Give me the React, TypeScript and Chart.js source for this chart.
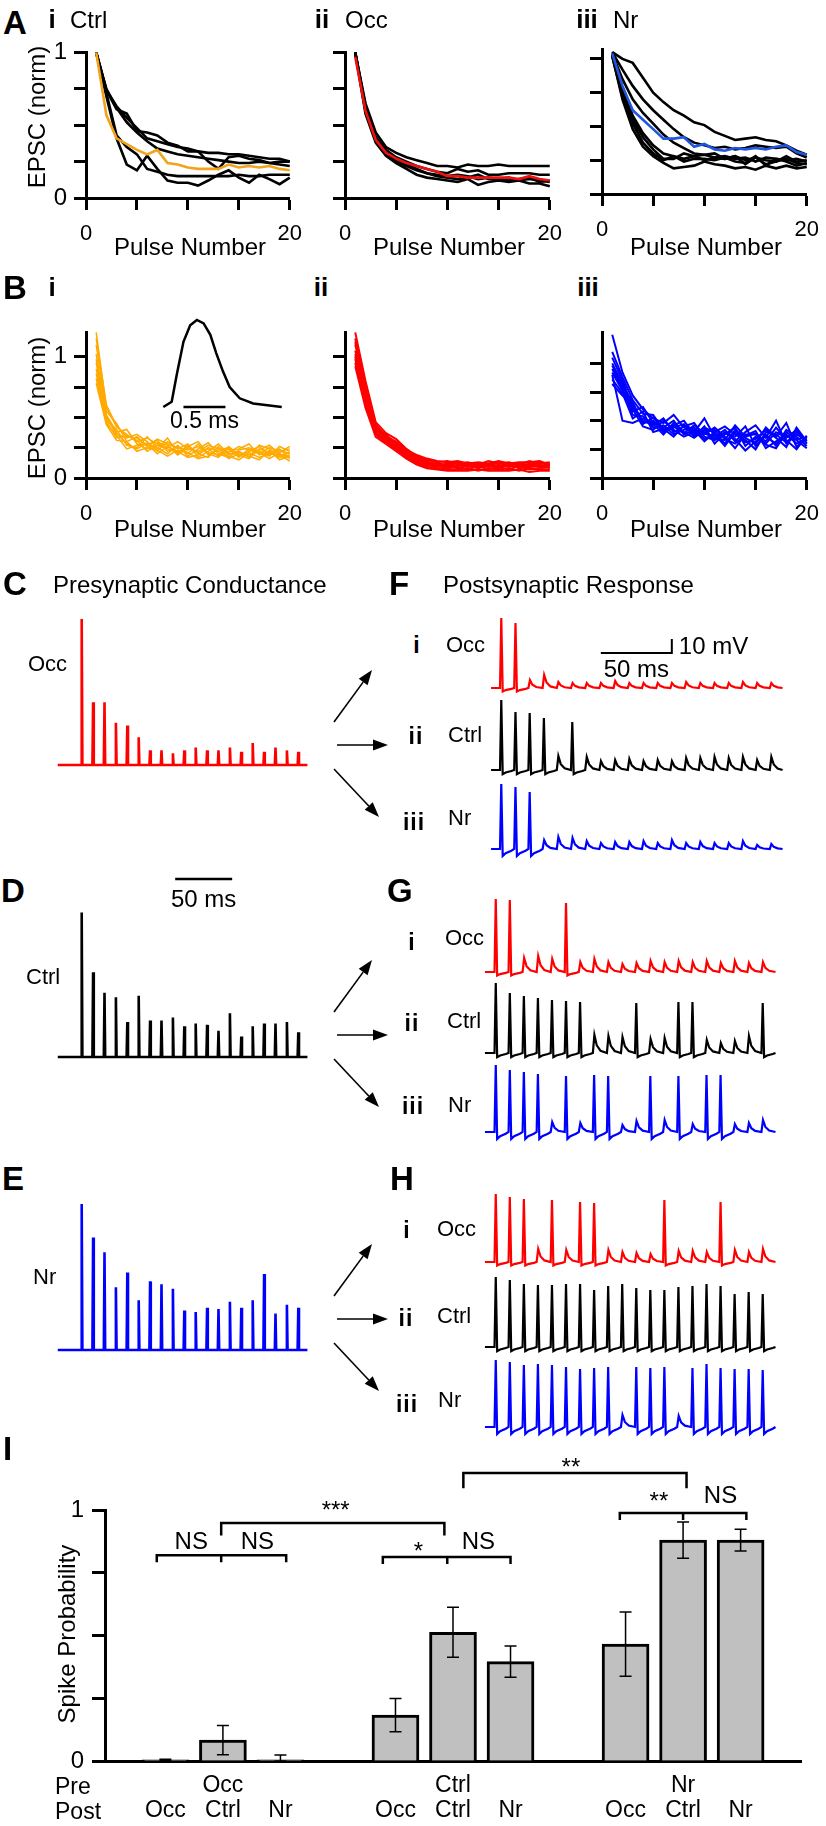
import React, { useEffect, useRef } from "react";
import { Chart, registerables } from "chart.js";

Chart.register(...registerables);

const FONT = "'Liberation Sans', Arial, Helvetica, sans-serif";
Chart.defaults.font.family = FONT;
Chart.defaults.color = "#000";

/* ======================= DATA ======================= */
// Panels A / B : normalised EPSC vs pulse number
const pulseNumbers = [1, 2, 3, 4, 5, 6, 7, 8, 9, 10, 11, 12, 13, 14, 15, 16, 17, 18, 19, 20];
const pulseAxisTicks = [0, 5, 10, 15, 20];
const epscAxisTicks = [0, 0.25, 0.5, 0.75, 1];

const aCtrlCells = [
  [1.0, 0.7, 0.41, 0.23, 0.19, 0.29, 0.2, 0.12, 0.105, 0.105, 0.085, 0.12, 0.16, 0.19, 0.14, 0.105, 0.16, 0.13, 0.095, 0.14],
  [1.0, 0.72, 0.43, 0.35, 0.3, 0.2, 0.18, 0.16, 0.15, 0.15, 0.15, 0.15, 0.15, 0.15, 0.16, 0.15, 0.15, 0.16, 0.16, 0.16],
  [1.0, 0.74, 0.61, 0.58, 0.46, 0.45, 0.43, 0.38, 0.36, 0.32, 0.32, 0.31, 0.31, 0.3, 0.3, 0.29, 0.28, 0.27, 0.27, 0.25],
  [1.0, 0.74, 0.63, 0.55, 0.48, 0.41, 0.39, 0.37, 0.35, 0.34, 0.32, 0.25, 0.2, 0.28, 0.29, 0.27, 0.26, 0.24, 0.23, 0.22],
  [1.0, 0.75, 0.62, 0.52, 0.45, 0.39, 0.34, 0.32, 0.3, 0.29, 0.28, 0.27, 0.26, 0.25, 0.24, 0.24, 0.25, 0.24, 0.25, 0.25],
];
const aCtrlModel = [1.0, 0.57, 0.41, 0.37, 0.33, 0.3, 0.33, 0.24, 0.23, 0.21, 0.2, 0.2, 0.2, 0.23, 0.21, 0.22, 0.21, 0.22, 0.2, 0.19];

const aOccCells = [
  [1.0, 0.65, 0.45, 0.35, 0.31, 0.28, 0.26, 0.24, 0.22, 0.22, 0.21, 0.23, 0.22, 0.22, 0.23, 0.22, 0.22, 0.22, 0.22, 0.22],
  [1.0, 0.62, 0.42, 0.33, 0.28, 0.25, 0.22, 0.2, 0.18, 0.17, 0.2, 0.18, 0.19, 0.16, 0.16, 0.17, 0.17, 0.17, 0.16, 0.16],
  [1.0, 0.6, 0.4, 0.31, 0.25, 0.22, 0.19, 0.17, 0.15, 0.14, 0.13, 0.14, 0.16, 0.13, 0.13, 0.12, 0.13, 0.14, 0.11, 0.12],
  [1.0, 0.58, 0.38, 0.29, 0.24, 0.2, 0.16, 0.14, 0.13, 0.12, 0.11, 0.13, 0.09, 0.11, 0.12, 0.11, 0.12, 0.1, 0.1, 0.08],
  [1.0, 0.63, 0.41, 0.33, 0.27, 0.23, 0.2, 0.17, 0.16, 0.15, 0.16, 0.15, 0.13, 0.14, 0.13, 0.14, 0.12, 0.13, 0.12, 0.11],
];
const aOccModel = [0.97, 0.6, 0.4, 0.31, 0.27, 0.24, 0.22, 0.2, 0.18, 0.15, 0.15, 0.14, 0.14, 0.14, 0.14, 0.14, 0.13, 0.15, 0.13, 0.12];

const aNrCells = [
  [1.05, 1.0, 0.97, 0.86, 0.75, 0.68, 0.62, 0.58, 0.53, 0.51, 0.46, 0.43, 0.4, 0.41, 0.42, 0.4, 0.39, 0.36, 0.32, 0.29],
  [1.05, 0.92, 0.8, 0.7, 0.62, 0.55, 0.48, 0.42, 0.38, 0.36, 0.34, 0.35, 0.33, 0.34, 0.36, 0.35, 0.34, 0.35, 0.3, 0.27],
  [1.04, 0.85, 0.7, 0.6, 0.52, 0.44, 0.38, 0.34, 0.3, 0.29, 0.3, 0.26, 0.28, 0.25, 0.27, 0.22, 0.24, 0.26, 0.23, 0.22],
  [1.03, 0.75, 0.55, 0.42, 0.33, 0.26, 0.26, 0.3, 0.28, 0.29, 0.27, 0.26, 0.28, 0.22, 0.27, 0.25, 0.24, 0.28, 0.24, 0.25],
  [1.02, 0.72, 0.52, 0.38, 0.3, 0.25, 0.28, 0.24, 0.26, 0.26, 0.25, 0.27, 0.24, 0.23, 0.28, 0.21, 0.26, 0.24, 0.21, 0.23],
  [1.02, 0.7, 0.48, 0.35, 0.28, 0.23, 0.19, 0.2, 0.21, 0.24, 0.22, 0.21, 0.19, 0.2, 0.18, 0.21, 0.19, 0.21, 0.19, 0.2],
  [1.03, 0.78, 0.58, 0.45, 0.36, 0.3, 0.28, 0.26, 0.28, 0.25, 0.27, 0.28, 0.26, 0.27, 0.24, 0.27, 0.26, 0.25, 0.26, 0.24],
];
const aNrModel = [1.04, 0.8, 0.62, 0.55, 0.48, 0.41, 0.41, 0.42, 0.35, 0.37, 0.33, 0.32, 0.34, 0.33, 0.34, 0.33, 0.35, 0.36, 0.31, 0.29];

const bCtrlSims = [
  [1.2, 0.58, 0.42, 0.36, 0.3, 0.33, 0.28, 0.25, 0.3, 0.24, 0.22, 0.27, 0.24, 0.21, 0.26, 0.23, 0.2, 0.25, 0.22, 0.24],
  [1.1, 0.55, 0.45, 0.3, 0.34, 0.27, 0.31, 0.22, 0.26, 0.2, 0.28, 0.19, 0.23, 0.25, 0.18, 0.22, 0.26, 0.19, 0.23, 0.2],
  [1.02, 0.52, 0.38, 0.4, 0.28, 0.24, 0.29, 0.27, 0.19, 0.25, 0.21, 0.24, 0.18, 0.22, 0.24, 0.28, 0.19, 0.22, 0.18, 0.21],
  [0.95, 0.5, 0.36, 0.33, 0.36, 0.3, 0.22, 0.3, 0.24, 0.28, 0.17, 0.22, 0.28, 0.2, 0.21, 0.19, 0.23, 0.27, 0.2, 0.17],
  [0.9, 0.48, 0.4, 0.27, 0.25, 0.34, 0.25, 0.2, 0.27, 0.18, 0.24, 0.29, 0.2, 0.17, 0.23, 0.25, 0.22, 0.18, 0.26, 0.22],
  [0.86, 0.47, 0.33, 0.35, 0.31, 0.22, 0.27, 0.24, 0.21, 0.26, 0.3, 0.2, 0.17, 0.26, 0.19, 0.16, 0.24, 0.21, 0.17, 0.19],
  [0.82, 0.45, 0.35, 0.24, 0.27, 0.28, 0.2, 0.26, 0.22, 0.17, 0.19, 0.25, 0.22, 0.18, 0.15, 0.21, 0.17, 0.2, 0.24, 0.16],
  [0.78, 0.44, 0.31, 0.3, 0.22, 0.25, 0.23, 0.18, 0.23, 0.21, 0.16, 0.18, 0.25, 0.16, 0.2, 0.18, 0.15, 0.23, 0.15, 0.18],
  [1.15, 0.6, 0.43, 0.34, 0.33, 0.26, 0.32, 0.28, 0.25, 0.23, 0.26, 0.21, 0.19, 0.24, 0.17, 0.24, 0.21, 0.16, 0.21, 0.26],
  [0.98, 0.51, 0.37, 0.28, 0.24, 0.29, 0.24, 0.33, 0.2, 0.27, 0.2, 0.17, 0.26, 0.19, 0.22, 0.17, 0.27, 0.24, 0.19, 0.14],
];
const bOccSims = [
  [1.2, 0.8, 0.46, 0.37, 0.32, 0.24, 0.18, 0.15, 0.13, 0.14, 0.12, 0.13, 0.11, 0.14, 0.12, 0.13, 0.11, 0.14, 0.12, 0.13],
  [1.15, 0.75, 0.43, 0.35, 0.29, 0.22, 0.17, 0.13, 0.12, 0.11, 0.13, 0.1, 0.12, 0.11, 0.13, 0.1, 0.12, 0.11, 0.13, 0.1],
  [1.1, 0.72, 0.42, 0.33, 0.28, 0.21, 0.16, 0.14, 0.1, 0.12, 0.1, 0.12, 0.09, 0.12, 0.1, 0.12, 0.09, 0.12, 0.1, 0.11],
  [1.05, 0.68, 0.4, 0.32, 0.26, 0.2, 0.14, 0.12, 0.11, 0.09, 0.11, 0.09, 0.11, 0.09, 0.11, 0.09, 0.11, 0.1, 0.09, 0.12],
  [1.02, 0.66, 0.38, 0.3, 0.25, 0.19, 0.15, 0.11, 0.09, 0.1, 0.08, 0.1, 0.08, 0.1, 0.08, 0.11, 0.08, 0.09, 0.11, 0.08],
  [0.98, 0.63, 0.37, 0.31, 0.24, 0.18, 0.13, 0.1, 0.1, 0.08, 0.09, 0.07, 0.1, 0.07, 0.09, 0.07, 0.1, 0.07, 0.08, 0.09],
  [0.95, 0.6, 0.36, 0.29, 0.23, 0.17, 0.12, 0.09, 0.08, 0.07, 0.07, 0.08, 0.06, 0.08, 0.07, 0.08, 0.06, 0.08, 0.07, 0.07],
  [0.92, 0.58, 0.34, 0.28, 0.22, 0.16, 0.11, 0.08, 0.07, 0.06, 0.06, 0.06, 0.07, 0.06, 0.06, 0.06, 0.07, 0.05, 0.06, 0.06],
  [1.12, 0.78, 0.44, 0.34, 0.3, 0.23, 0.19, 0.16, 0.14, 0.13, 0.14, 0.12, 0.13, 0.12, 0.14, 0.12, 0.13, 0.13, 0.14, 0.11],
  [1.0, 0.7, 0.39, 0.36, 0.27, 0.2, 0.16, 0.12, 0.11, 0.1, 0.1, 0.11, 0.1, 0.11, 0.09, 0.1, 0.1, 0.09, 0.1, 0.1],
];
const bNrSims = [
  [1.25, 0.92, 0.72, 0.6, 0.52, 0.48, 0.55, 0.44, 0.4, 0.52, 0.36, 0.42, 0.32, 0.4, 0.46, 0.35, 0.5, 0.3, 0.38, 0.33],
  [1.1, 0.88, 0.68, 0.56, 0.55, 0.42, 0.46, 0.5, 0.38, 0.44, 0.4, 0.3, 0.42, 0.35, 0.3, 0.44, 0.36, 0.48, 0.27, 0.36],
  [1.05, 0.85, 0.62, 0.5, 0.46, 0.52, 0.4, 0.45, 0.48, 0.36, 0.33, 0.38, 0.44, 0.28, 0.36, 0.3, 0.4, 0.35, 0.42, 0.3],
  [1.0, 0.82, 0.58, 0.62, 0.48, 0.44, 0.5, 0.38, 0.42, 0.4, 0.42, 0.34, 0.3, 0.37, 0.41, 0.26, 0.32, 0.38, 0.3, 0.34],
  [0.98, 0.8, 0.66, 0.48, 0.5, 0.4, 0.44, 0.47, 0.36, 0.45, 0.3, 0.39, 0.36, 0.45, 0.28, 0.38, 0.28, 0.42, 0.36, 0.28],
  [0.95, 0.78, 0.55, 0.54, 0.44, 0.46, 0.38, 0.42, 0.44, 0.34, 0.38, 0.28, 0.4, 0.31, 0.34, 0.42, 0.35, 0.27, 0.44, 0.32],
  [0.92, 0.76, 0.6, 0.45, 0.42, 0.5, 0.42, 0.36, 0.4, 0.38, 0.44, 0.36, 0.26, 0.38, 0.38, 0.32, 0.44, 0.33, 0.25, 0.37],
  [0.9, 0.5, 0.48, 0.52, 0.47, 0.38, 0.48, 0.4, 0.35, 0.42, 0.34, 0.4, 0.34, 0.24, 0.32, 0.36, 0.3, 0.37, 0.33, 0.26],
  [0.86, 0.74, 0.52, 0.58, 0.4, 0.43, 0.36, 0.46, 0.42, 0.32, 0.4, 0.45, 0.38, 0.33, 0.25, 0.4, 0.38, 0.31, 0.4, 0.3],
  [0.82, 0.72, 0.64, 0.47, 0.53, 0.41, 0.45, 0.39, 0.46, 0.39, 0.35, 0.33, 0.46, 0.36, 0.39, 0.29, 0.26, 0.4, 0.34, 0.35],
];

// inset EPSC waveform (B i)
const insetTimeMs = [0, 0.1, 0.16, 0.24, 0.32, 0.4, 0.48, 0.56, 0.63, 0.71, 0.79, 0.91, 1.07, 1.41];
const insetAmp = [0, 0.06, 0.37, 0.75, 0.94, 1.0, 0.96, 0.83, 0.62, 0.41, 0.23, 0.1, 0.04, 0.0];

// Panels C-E : presynaptic conductance per pulse (100 Hz train)
const pulseTimesMs = [0, 10, 20, 30, 40, 50, 60, 70, 80, 90, 100, 110, 120, 130, 140, 150, 160, 170, 180, 190];
const condOcc = [1.0, 0.43, 0.43, 0.29, 0.27, 0.19, 0.1, 0.1, 0.08, 0.1, 0.12, 0.1, 0.1, 0.12, 0.09, 0.15, 0.09, 0.12, 0.1, 0.09];
const condCtrl = [0.99, 0.58, 0.44, 0.41, 0.24, 0.42, 0.25, 0.25, 0.27, 0.21, 0.23, 0.22, 0.18, 0.3, 0.14, 0.21, 0.23, 0.23, 0.24, 0.17];
const condNr = [1.0, 0.77, 0.67, 0.43, 0.53, 0.34, 0.47, 0.45, 0.42, 0.27, 0.26, 0.29, 0.28, 0.33, 0.29, 0.34, 0.52, 0.25, 0.31, 0.29];

// Panels F-H : postsynaptic peak depolarisation per pulse (mV above rest)
const fOccPost = [50, 46.4, 5.7, 9.3, 4.3, 3.6, 3.6, 3.6, 5.0, 3.6, 3.6, 3.6, 3.6, 4.3, 3.6, 3.6, 3.6, 4.3, 3.6, 3.6];
const fCtrlPost = [50, 41.4, 40.7, 37.1, 10.0, 34.3, 9.3, 6.4, 7.1, 7.9, 6.4, 7.1, 6.4, 8.6, 8.6, 9.3, 8.6, 9.3, 7.1, 9.3];
const fNrPost = [46.4, 44.3, 40.7, 6.4, 8.6, 7.9, 5.7, 4.3, 5.0, 5.0, 5.7, 4.3, 6.4, 4.3, 5.0, 4.3, 4.3, 5.7, 2.9, 3.6];
const gOccPost = [52.1, 51.4, 10.0, 11.4, 9.3, 49.3, 7.1, 9.3, 7.1, 5.7, 6.4, 7.9, 7.1, 7.9, 7.1, 7.9, 6.4, 7.9, 6.4, 7.1];
const gCtrlPost = [50.0, 42.9, 40.7, 39.3, 37.9, 37.1, 36.4, 12.9, 12.1, 11.4, 35.7, 10.0, 10.7, 36.4, 36.4, 9.3, 7.1, 8.6, 12.1, 35.7];
const gNrPost = [47.9, 44.3, 42.9, 41.4, 7.1, 40.0, 6.4, 40.7, 40.0, 5.0, 7.9, 40.0, 8.6, 40.0, 5.7, 40.7, 40.7, 5.7, 6.4, 8.6];
const hOccPost = [48.6, 46.4, 45.0, 9.3, 44.3, 8.6, 42.9, 42.1, 8.6, 7.1, 6.4, 5.7, 44.3, 7.9, 7.9, 7.1, 42.9, 8.6, 7.1, 9.3];
const hCtrlPost = [50.0, 47.9, 45.0, 44.3, 44.3, 45.0, 45.0, 40.7, 43.6, 45.0, 42.1, 40.7, 40.7, 42.9, 43.6, 45.0, 43.6, 37.9, 39.3, 37.9];
const hNrPost = [47.9, 46.4, 44.3, 45.0, 44.3, 42.9, 41.4, 42.1, 42.9, 8.6, 42.9, 42.1, 42.9, 7.9, 42.1, 45.0, 42.1, 41.4, 41.4, 40.7];

// Panel I : spike probability
const preGroups = ["Occ", "Ctrl", "Nr"];
const postGroups = ["Occ", "Ctrl", "Nr"];
const probPreOcc = [0.005, 0.083, 0.005];
const probPreCtrl = [0.183, 0.513, 0.396];
const probPreNr = [0.466, 0.88, 0.88];
const semPreOcc = [0.002, 0.058, 0.019];
const semPreCtrl = [0.066, 0.1, 0.062];
const semPreNr = [0.128, 0.072, 0.043];
const probTicks = [0, 0.25, 0.5, 0.75, 1];

// significance annotations (bar-index / probability units)
const groupBrackets = [
  { x1: -0.15, mid: 0.97, x2: 2.1, y: 0.82 },
  { x1: 3.78, mid: 4.9, x2: 6.0, y: 0.813 },
  { x1: 7.9, mid: 9.0, x2: 10.1, y: 0.988 },
];
const spanBrackets = [
  { x1: 0.97, x2: 4.85, y: 0.948, drop1: 0.05, drop2: 0.05 },
  { x1: 5.18, x2: 9.06, y: 1.147, drop1: 0.06, drop2: 0.06 },
];
const sigLabels = [
  { x: 0.45, y: 0.873, t: "NS" },
  { x: 1.6, y: 0.873, t: "NS" },
  { x: 2.96, y: 1.02, t: "***" },
  { x: 4.4, y: 0.857, t: "*" },
  { x: 5.44, y: 0.873, t: "NS" },
  { x: 7.05, y: 1.19, t: "**" },
  { x: 8.58, y: 1.056, t: "**" },
  { x: 9.65, y: 1.056, t: "NS" },
];

/* ======================= HELPERS ======================= */
type Pt = { x: number; y: number };

const RED = "#ff0000";
const BLUE = "#0000ff";

function pulseSeries(values: number[]): Pt[] {
  return values.map((v, i) => ({ x: pulseNumbers[i], y: v }));
}

function lineDs(data: Pt[], color: string, width: number) {
  return { data, borderColor: color, borderWidth: width, pointRadius: 0, tension: 0, fill: false, clip: 10 };
}

const MINI_L = 50, MINI_T = 12, MINI_R = 20, MINI_B = 55;

function miniConfig(ymax: number, yLabelled: boolean, datasets: any[]) {
  const grid = { display: true, drawOnChartArea: false, drawTicks: true, tickLength: 12, tickWidth: 3, tickColor: "#000" };
  const border = { display: true, color: "#000", width: 3 };
  return {
    type: "line",
    data: { datasets },
    options: {
      animation: false,
      responsive: false,
      events: [],
      layout: { autoPadding: false, padding: { left: 0, top: MINI_T, right: MINI_R, bottom: 0 } },
      plugins: { legend: { display: false }, tooltip: { enabled: false } },
      scales: {
        x: {
          type: "linear", min: 0, max: 20, grid, border,
          afterFit: (s: any) => { s.height = MINI_B; },
          afterBuildTicks: (s: any) => { s.ticks = pulseAxisTicks.map((v) => ({ value: v })); },
          ticks: { font: { size: 22 }, padding: 11, maxRotation: 0, autoSkip: false, color: "#000",
            callback: (v: any) => (v === 0 || v === 20 ? String(v) : "") },
        },
        y: {
          type: "linear", min: 0, max: ymax, grid, border,
          afterFit: (s: any) => { s.width = MINI_L; },
          afterBuildTicks: (s: any) => { s.ticks = epscAxisTicks.map((v) => ({ value: v })); },
          ticks: { font: { size: 24 }, padding: 7, color: "#000",
            callback: (v: any) => (yLabelled && (v === 0 || v === 1) ? String(v) : "") },
        },
      },
    },
  };
}

function traceConfig(datasets: any[], xr: number[], yr: number[], plugins: any[] = []) {
  return {
    type: "line",
    data: { datasets },
    options: {
      animation: false,
      responsive: false,
      events: [],
      layout: { autoPadding: false, padding: 0 },
      plugins: { legend: { display: false }, tooltip: { enabled: false } },
      scales: {
        x: { type: "linear", display: false, min: xr[0], max: xr[1] },
        y: { type: "linear", display: false, min: yr[0], max: yr[1] },
      },
    },
    plugins,
  };
}

// layout mapping: canvas box -> data range so that given pixel anchors hold
function rangeX(left: number, width: number, zeroPx: number, pxPer: number) {
  return [(left - zeroPx) / pxPer, (left + width - zeroPx) / pxPer];
}
function rangeY(top: number, height: number, basePx: number, pxPer: number) {
  return [-(top + height - basePx) / pxPer, (basePx - top) / pxPer];
}

function condPoints(amps: number[]): Pt[] {
  const pts: Pt[] = [{ x: -21, y: 0 }];
  amps.forEach((a, i) => {
    const t = pulseTimesMs[i];
    pts.push({ x: t - 0.6, y: 0 }, { x: t, y: a }, { x: t + 0.6, y: 0 });
  });
  pts.push({ x: 198, y: 0 });
  return pts;
}

const SPIKE_MV = 20;
function postPoints(amps: number[], ahp: number, tStart: number, tEnd: number): Pt[] {
  const pts: Pt[] = [{ x: tStart, y: 0 }];
  amps.forEach((a, i) => {
    const t = pulseTimesMs[i];
    pts.push({ x: t, y: 0 });
    if (a >= SPIKE_MV) {
      pts.push({ x: t + 0.9, y: a }, { x: t + 1.9, y: -ahp }, { x: t + 4, y: -0.6 * ahp }, { x: t + 8, y: -0.25 * ahp });
    } else {
      pts.push({ x: t + 1.1, y: a }, { x: t + 2.8, y: 0.42 * a }, { x: t + 5.5, y: 0.12 * a });
    }
  });
  pts.push({ x: tEnd, y: 0 });
  return pts;
}

function drawArrow(ctx: CanvasRenderingContext2D, x1: number, y1: number, x2: number, y2: number) {
  const ang = Math.atan2(y2 - y1, x2 - x1);
  const L = 15, W = 5.5;
  const bx = x2 - L * Math.cos(ang), by = y2 - L * Math.sin(ang);
  ctx.strokeStyle = "#000";
  ctx.fillStyle = "#000";
  ctx.lineWidth = 1.6;
  ctx.beginPath();
  ctx.moveTo(x1, y1);
  ctx.lineTo(bx, by);
  ctx.stroke();
  ctx.beginPath();
  ctx.moveTo(x2, y2);
  ctx.lineTo(bx + W * Math.sin(ang), by - W * Math.cos(ang));
  ctx.lineTo(bx - W * Math.sin(ang), by + W * Math.cos(ang));
  ctx.closePath();
  ctx.fill();
}

function arrowsPlugin(midY: number, canvasLeft: number, canvasTop: number) {
  return {
    id: "arrows",
    afterDraw(chart: any) {
      const ctx = chart.ctx;
      ctx.save();
      const ox = -canvasLeft, oy = -canvasTop;
      drawArrow(ctx, 334 + ox, midY - 23 + oy, 372 + ox, midY - 75 + oy);
      drawArrow(ctx, 337 + ox, midY + oy, 388 + ox, midY + oy);
      drawArrow(ctx, 334 + ox, midY + 24 + oy, 379 + ox, midY + 72 + oy);
      ctx.restore();
    },
  };
}

/* ======================= COMPONENTS ======================= */
function ChartBox({ left, top, width, height, make }: { left: number; top: number; width: number; height: number; make: () => any }) {
  const ref = useRef<HTMLCanvasElement | null>(null);
  useEffect(() => {
    const chart = new Chart(ref.current as HTMLCanvasElement, make());
    return () => chart.destroy();
  }, []);
  return (
    <div style={{ position: "absolute", left, top, width, height }}>
      <canvas ref={ref} width={width} height={height} style={{ width, height }} />
    </div>
  );
}

function T({ x, y, s = 24, b = false, a = "left", ls = 0, children }: any) {
  const tx = a === "center" ? "-50%" : a === "right" ? "-100%" : "0";
  return (
    <div style={{ position: "absolute", left: x, top: y, fontSize: s, fontWeight: b ? 700 : 400, lineHeight: 1,
      whiteSpace: "nowrap", letterSpacing: ls, transform: `translate(${tx},-50%)` }}>{children}</div>
  );
}
function RotT({ x, y, s = 24, children }: any) {
  return (
    <div style={{ position: "absolute", left: x, top: y, fontSize: s, lineHeight: 1, whiteSpace: "nowrap",
      transform: "translate(-50%,-50%) rotate(-90deg)" }}>{children}</div>
  );
}

function Mini({ plotLeft, plotTop, plotW, plotH, ymax, yLabelled, datasets }: any) {
  return (
    <ChartBox left={plotLeft - MINI_L} top={plotTop - MINI_T} width={plotW + MINI_L + MINI_R} height={plotH + MINI_T + MINI_B}
      make={() => miniConfig(ymax, yLabelled, datasets)} />
  );
}

function PresynBlock({ amps, color, top, height, basePx, midArrowY, scaleBar }: any) {
  const left = 30, width = 372;
  const xr = rangeX(left, width, 81.7, 1.14);
  const yr = rangeY(top, height, basePx, 146);
  const plugins: any[] = [arrowsPlugin(midArrowY, left, top)];
  if (scaleBar) {
    plugins.push({
      id: "scalebar",
      afterDraw(chart: any) {
        const { ctx, scales } = chart;
        const x1 = scales.x.getPixelForValue(82), x2 = scales.x.getPixelForValue(132);
        const y = scales.y.getPixelForValue(1.22);
        ctx.save();
        ctx.strokeStyle = "#000"; ctx.lineWidth = 2.5;
        ctx.beginPath(); ctx.moveTo(x1, y); ctx.lineTo(x2, y); ctx.stroke();
        ctx.fillStyle = "#000"; ctx.font = `24px ${FONT}`; ctx.textAlign = "center"; ctx.textBaseline = "middle";
        ctx.fillText("50 ms", (x1 + x2) / 2, y + 21);
        ctx.restore();
      },
    });
  }
  return (
    <ChartBox left={left} top={top} width={width} height={height}
      make={() => traceConfig([lineDs(condPoints(amps), color, 2.6)], xr, yr, plugins)} />
  );
}

function PostRow({ amps, color, ahp, top, height, basePx, firstPx, pxPerMs, tStart, tEnd, scaleBar }: any) {
  const left = 480, width = 310;
  const xr = rangeX(left, width, firstPx, pxPerMs);
  const yr = rangeY(top, height, basePx, 1.4);
  const plugins: any[] = [];
  if (scaleBar) {
    plugins.push({
      id: "vscale",
      afterDraw(chart: any) {
        const { ctx, scales } = chart;
        const x1 = scales.x.getPixelForValue(71), x2 = scales.x.getPixelForValue(121);
        const y0 = scales.y.getPixelForValue(25), y1 = scales.y.getPixelForValue(35);
        ctx.save();
        ctx.strokeStyle = "#000"; ctx.lineWidth = 2;
        ctx.beginPath(); ctx.moveTo(x1, y0); ctx.lineTo(x2, y0); ctx.lineTo(x2, y1); ctx.stroke();
        ctx.fillStyle = "#000"; ctx.font = `24px ${FONT}`; ctx.textBaseline = "middle";
        ctx.textAlign = "left"; ctx.fillText("10 mV", x2 + 7, y1 + 8);
        ctx.textAlign = "center"; ctx.fillText("50 ms", (x1 + x2) / 2, y0 + 17);
        ctx.restore();
      },
    });
  }
  return (
    <ChartBox left={left} top={top} width={width} height={height}
      make={() => traceConfig([lineDs(postPoints(amps, ahp, tStart, tEnd), color, 2.2)], xr, yr, plugins)} />
  );
}

function InsetEPSC() {
  const left = 155, top = 312, width = 135, height = 125;
  const xr = rangeX(left, width, 163.3, 84);
  const yr = rangeY(top, height, 407, 87);
  const data = insetAmp.map((v, i) => ({ x: insetTimeMs[i], y: v }));
  const plugin = {
    id: "insetbar",
    afterDraw(chart: any) {
      const { ctx, scales } = chart;
      const x1 = scales.x.getPixelForValue(0.24), x2 = scales.x.getPixelForValue(0.74);
      const y = scales.y.getPixelForValue(0);
      ctx.save();
      ctx.strokeStyle = "#000"; ctx.lineWidth = 2.5;
      ctx.beginPath(); ctx.moveTo(x1, y); ctx.lineTo(x2, y); ctx.stroke();
      ctx.fillStyle = "#000"; ctx.font = `23px ${FONT}`; ctx.textAlign = "center"; ctx.textBaseline = "middle";
      ctx.fillText("0.5 ms", (x1 + x2) / 2, y + 15);
      ctx.restore();
    },
  };
  return <ChartBox left={left} top={top} width={width} height={height}
    make={() => traceConfig([lineDs(data, "#000", 2.5)], xr, yr, [plugin])} />;
}

function SpikeProbChart() {
  const groups = [probPreOcc, probPreCtrl, probPreNr];
  const sems = [semPreOcc, semPreCtrl, semPreNr];
  const bars: Pt[] = [];
  const errs: number[] = [];
  groups.forEach((g, gi) => g.forEach((v, j) => { bars.push({ x: gi * 4 + j, y: v }); errs.push(sems[gi][j]); }));
  const tickIdx = bars.map((b) => b.x);

  const annot = {
    id: "annot",
    afterDatasetsDraw(chart: any) {
      const { ctx, scales } = chart;
      const X = (v: number) => scales.x.getPixelForValue(v);
      const Y = (v: number) => scales.y.getPixelForValue(v);
      ctx.save();
      ctx.strokeStyle = "#000";
      ctx.lineWidth = 1.5;
      bars.forEach((b, i) => {
        const x = X(b.x), yt = Y(b.y + errs[i]), yb = Y(Math.max(0, b.y - errs[i]));
        ctx.beginPath();
        ctx.moveTo(x, yt); ctx.lineTo(x, yb);
        ctx.moveTo(x - 6, yt); ctx.lineTo(x + 6, yt);
        ctx.moveTo(x - 6, yb); ctx.lineTo(x + 6, yb);
        ctx.stroke();
      });
      ctx.lineWidth = 2.5;
      groupBrackets.forEach((br) => {
        const y = Y(br.y), yd = Y(br.y - 0.028);
        ctx.beginPath();
        ctx.moveTo(X(br.x1), yd); ctx.lineTo(X(br.x1), y); ctx.lineTo(X(br.x2), y); ctx.lineTo(X(br.x2), yd);
        ctx.moveTo(X(br.mid), y); ctx.lineTo(X(br.mid), yd);
        ctx.stroke();
      });
      spanBrackets.forEach((br) => {
        const y = Y(br.y);
        ctx.beginPath();
        ctx.moveTo(X(br.x1), Y(br.y - br.drop1)); ctx.lineTo(X(br.x1), y); ctx.lineTo(X(br.x2), y); ctx.lineTo(X(br.x2), Y(br.y - br.drop2));
        ctx.stroke();
      });
      ctx.fillStyle = "#000";
      ctx.textAlign = "center";
      ctx.textBaseline = "middle";
      sigLabels.forEach((l) => {
        const star = l.t.startsWith("*");
        ctx.font = `24px ${FONT}`;
        ctx.fillText(l.t, X(l.x), Y(l.y) + (star ? 6 : 0));
      });
      ctx.restore();
    },
  };

  const cfg = {
    type: "bar",
    data: {
      datasets: [{
        data: bars, backgroundColor: "#c0c0c0", borderColor: "#000", borderWidth: 3, barThickness: 47,
      }],
    },
    options: {
      animation: false,
      responsive: false,
      events: [],
      layout: { autoPadding: false, padding: { left: 0, top: 70, right: 25, bottom: 0 } },
      plugins: { legend: { display: false }, tooltip: { enabled: false } },
      scales: {
        x: {
          type: "linear", min: -1.05, max: 11.05, offset: false,
          grid: { display: false, drawTicks: false, offset: false },
          border: { display: true, color: "#000", width: 3 },
          afterFit: (s: any) => { s.height = 65; },
          afterBuildTicks: (s: any) => { s.ticks = tickIdx.map((v) => ({ value: v })); },
          ticks: {
            font: { size: 23, lineHeight: 1.1 }, padding: 12, maxRotation: 0, autoSkip: false, color: "#000",
            callback: (v: any) => {
              const g = Math.floor(v / 4), j = v % 4;
              return [j === 1 ? preGroups[g] : "", postGroups[j]];
            },
          },
        },
        y: {
          type: "linear", min: 0, max: 1,
          grid: { display: true, drawOnChartArea: false, drawTicks: true, tickLength: 13, tickWidth: 3, tickColor: "#000" },
          border: { display: true, color: "#000", width: 3 },
          afterFit: (s: any) => { s.width = 105; },
          afterBuildTicks: (s: any) => { s.ticks = probTicks.map((v) => ({ value: v })); },
          ticks: { font: { size: 24 }, padding: 8, color: "#000",
            callback: (v: any) => (v === 0 || v === 1 ? String(v) : "") },
        },
      },
    },
    plugins: [annot],
  };
  return <ChartBox left={0} top={1440} width={826} height={386} make={() => cfg} />;
}

/* ======================= APP ======================= */
export default function App() {
  // Chart.js paints dataset 0 last (on top), so the coloured mean trace goes first.
  const aCtrlDs = [lineDs(pulseSeries(aCtrlModel), "#f2a31b", 2.6), ...aCtrlCells.map((c) => lineDs(pulseSeries(c), "#000", 2.6))];
  const aOccDs = [lineDs(pulseSeries(aOccModel), "#f01010", 2.6), ...aOccCells.map((c) => lineDs(pulseSeries(c), "#000", 2.6))];
  const aNrDs = [lineDs(pulseSeries(aNrModel), "#2156e0", 2.6), ...aNrCells.map((c) => lineDs(pulseSeries(c), "#000", 2.6))];
  const bCtrlDs = bCtrlSims.map((c) => lineDs(pulseSeries(c), "#ffaa00", 1.5));
  const bOccDs = bOccSims.map((c) => lineDs(pulseSeries(c), RED, 2));
  const bNrDs = bNrSims.map((c) => lineDs(pulseSeries(c), BLUE, 2));

  const F = { firstPx: 500, pxPerMs: 1.42, tStart: -6.3, tEnd: 199 };
  const GH = { firstPx: 494.5, pxPerMs: 1.405, tStart: -6.8, tEnd: 200 };

  return (
    <div style={{ position: "absolute", left: 0, top: 0, width: 826, height: 1826, background: "#fff",
      fontFamily: FONT, color: "#000", overflow: "hidden" }}>
      {/* Panel A */}
      <Mini plotLeft={86} plotTop={43} plotW={207} plotH={155} ymax={1} yLabelled datasets={aCtrlDs} />
      <Mini plotLeft={345} plotTop={43} plotW={208} plotH={155} ymax={1} yLabelled={false} datasets={aOccDs} />
      <Mini plotLeft={602} plotTop={40} plotW={208} plotH={154} ymax={1.07} yLabelled={false} datasets={aNrDs} />
      {/* Panel B */}
      <Mini plotLeft={86} plotTop={323} plotW={207} plotH={155} ymax={1.2} yLabelled datasets={bCtrlDs} />
      <Mini plotLeft={345} plotTop={323} plotW={208} plotH={155} ymax={1.2} yLabelled={false} datasets={bOccDs} />
      <Mini plotLeft={602} plotTop={323} plotW={208} plotH={155} ymax={1.27} yLabelled={false} datasets={bNrDs} />
      <InsetEPSC />

      {/* Panels C-E */}
      <PresynBlock amps={condOcc} color={RED} top={605} height={222} basePx={765} midArrowY={745} />
      <PresynBlock amps={condCtrl} color="#000" top={870} height={247} basePx={1057} midArrowY={1035} scaleBar />
      <PresynBlock amps={condNr} color={BLUE} top={1192} height={210} basePx={1350} midArrowY={1319} />

      {/* Panels F-H */}
      <PostRow amps={fOccPost} color={RED} ahp={2.5} top={605} height={95} basePx={688} {...F} scaleBar />
      <PostRow amps={fCtrlPost} color="#000" ahp={3} top={693} height={90} basePx={770} {...F} />
      <PostRow amps={fNrPost} color={BLUE} ahp={5} top={774} height={92} basePx={849} {...F} />
      <PostRow amps={gOccPost} color={RED} ahp={2.5} top={890} height={95} basePx={972} {...GH} />
      <PostRow amps={gCtrlPost} color="#000" ahp={3} top={975} height={90} basePx={1053} {...GH} />
      <PostRow amps={gNrPost} color={BLUE} ahp={5} top={1056} height={90} basePx={1132} {...GH} />
      <PostRow amps={hOccPost} color={RED} ahp={2.5} top={1184} height={92} basePx={1262} {...GH} />
      <PostRow amps={hCtrlPost} color="#000" ahp={3} top={1268} height={92} basePx={1347} {...GH} />
      <PostRow amps={hNrPost} color={BLUE} ahp={5} top={1350} height={90} basePx={1427} {...GH} />

      {/* Panel I */}
      <SpikeProbChart />

      {/* ---- text ---- */}
      <T x={3} y={22} s={33} b>A</T>
      <T x={52} y={19} s={26} b a="center">i</T>
      <T x={70} y={20}>Ctrl</T>
      <T x={322} y={19} s={26} b a="center">ii</T>
      <T x={345} y={20}>Occ</T>
      <T x={587} y={19} s={26} b a="center">iii</T>
      <T x={613} y={20}>Nr</T>
      <RotT x={37} y={117}>EPSC (norm)</RotT>
      <T x={190} y={247} a="center">Pulse Number</T>
      <T x={449} y={247} a="center">Pulse Number</T>
      <T x={706} y={247} a="center">Pulse Number</T>

      <T x={3} y={287} s={33} b>B</T>
      <T x={52} y={287} s={26} b a="center">i</T>
      <T x={321} y={287} s={26} b a="center">ii</T>
      <T x={588} y={287} s={26} b a="center">iii</T>
      <RotT x={37} y={408}>EPSC (norm)</RotT>
      <T x={190} y={529} a="center">Pulse Number</T>
      <T x={449} y={529} a="center">Pulse Number</T>
      <T x={706} y={529} a="center">Pulse Number</T>

      <T x={3} y={583} s={33} b>C</T>
      <T x={53} y={585}>Presynaptic Conductance</T>
      <T x={28} y={664} s={22}>Occ</T>
      <T x={1} y={890} s={33} b>D</T>
      <T x={26} y={977} s={22}>Ctrl</T>
      <T x={2} y={1178} s={33} b>E</T>
      <T x={33} y={1277} s={22}>Nr</T>

      <T x={389} y={583} s={33} b>F</T>
      <T x={443} y={585}>Postsynaptic Response</T>
      <T x={417} y={645} s={23} b a="center" ls={1}>i</T>
      <T x={446} y={645} s={22}>Occ</T>
      <T x={416} y={736} s={23} b a="center" ls={1}>ii</T>
      <T x={448} y={735} s={22}>Ctrl</T>
      <T x={414} y={822} s={23} b a="center" ls={1}>iii</T>
      <T x={448} y={818} s={22}>Nr</T>

      <T x={387} y={890} s={33} b>G</T>
      <T x={412} y={942} s={23} b a="center" ls={1}>i</T>
      <T x={445} y={938} s={22}>Occ</T>
      <T x={412} y={1023} s={23} b a="center" ls={1}>ii</T>
      <T x={447} y={1021} s={22}>Ctrl</T>
      <T x={413} y={1106} s={23} b a="center" ls={1}>iii</T>
      <T x={448} y={1105} s={22}>Nr</T>

      <T x={390} y={1178} s={33} b>H</T>
      <T x={407} y={1230} s={23} b a="center" ls={1}>i</T>
      <T x={437} y={1229} s={22}>Occ</T>
      <T x={406} y={1318} s={23} b a="center" ls={1}>ii</T>
      <T x={437} y={1316} s={22}>Ctrl</T>
      <T x={407} y={1404} s={23} b a="center" ls={1}>iii</T>
      <T x={438} y={1400} s={22}>Nr</T>

      <T x={3} y={1448} s={33} b>I</T>
      <RotT x={67} y={1634}>Spike Probability</RotT>
      <T x={55} y={1786} s={23}>Pre</T>
      <T x={55} y={1811} s={23}>Post</T>
    </div>
  );
}
